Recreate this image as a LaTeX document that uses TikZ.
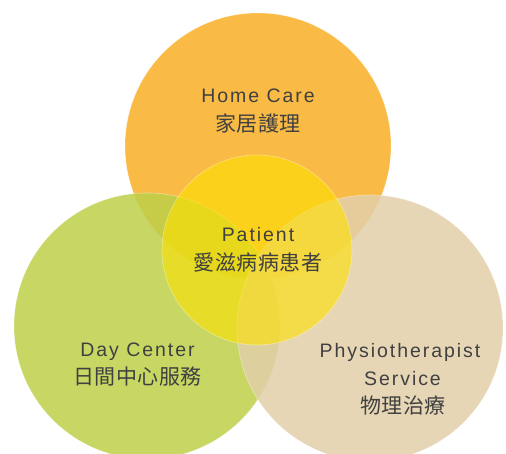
\documentclass[tikz,border=0pt]{standalone}
\usepackage{fontspec}
\setmainfont{Liberation Sans}
\newfontfamily\engfont[LetterSpace=10]{Liberation Sans}
\newfontfamily\cjkfont[LetterSpace=2]{Noto Sans CJK TC}
\usetikzlibrary{positioning,calc}
\definecolor{homecare}{RGB}{249,187,69}
\definecolor{daycentre}{RGB}{190,207,73}
\definecolor{physio}{RGB}{226,207,169}
\definecolor{patient}{RGB}{254,225,0}
\definecolor{labeltext}{RGB}{64,64,64}

\begin{document}
\begin{tikzpicture}[x=1pt,y=1pt]
  \clip (0,0) rectangle (506,454);
  \begin{scope}[
    every node/.style={
      circle,
      inner sep=0pt,
      minimum size=266pt,
      draw=white,
      draw opacity=.4,
      line width=.6pt,
    },
    ]
    \node[fill=homecare] (home) at (258,308) {};
    \node[fill=daycentre,fill opacity=.85] (day) at (147,128) {};
    \node[fill=physio,fill opacity=.85] (physio) at (370,126) {};
    \node[fill=patient,fill opacity=.6,minimum size=190pt] (patient) at (257,204) {};
  \end{scope}
  \begin{scope}[
    every node/.style={inner sep=0pt,text=labeltext},
    eng/.style={anchor=base,font=\engfont\fontsize{19.5}{19.5}\selectfont},
    cjk/.style={anchor=center,font=\cjkfont\fontsize{21}{21}\selectfont},
    ]
    \path ($(home)+(0,43.3)$) node[eng](home-en){Home Care}
    ++(0,-21) node[cjk](home-zh){家居護理};
    \path ($(patient)+(1,8)$) node[eng](patient-en){Patient}
    ++(0,-21) node[cjk](patient-zh){愛滋病病患者};
    \path ($(day)+(-9.5,-30.7)$) node[eng](day-en){Day Center}
    ++(0,-20) node[cjk](day-zh){日間中心服務};
    \path ($(physio)+(30,-29.7)$) node[eng](physio-en){Physiotherapist}
    ++(2.5,-28.3) node[eng](physio-sv){Service}
    ++(0.5,-19.5) node[cjk](physio-zh){物理治療};
  \end{scope}
\end{tikzpicture}
\end{document}
